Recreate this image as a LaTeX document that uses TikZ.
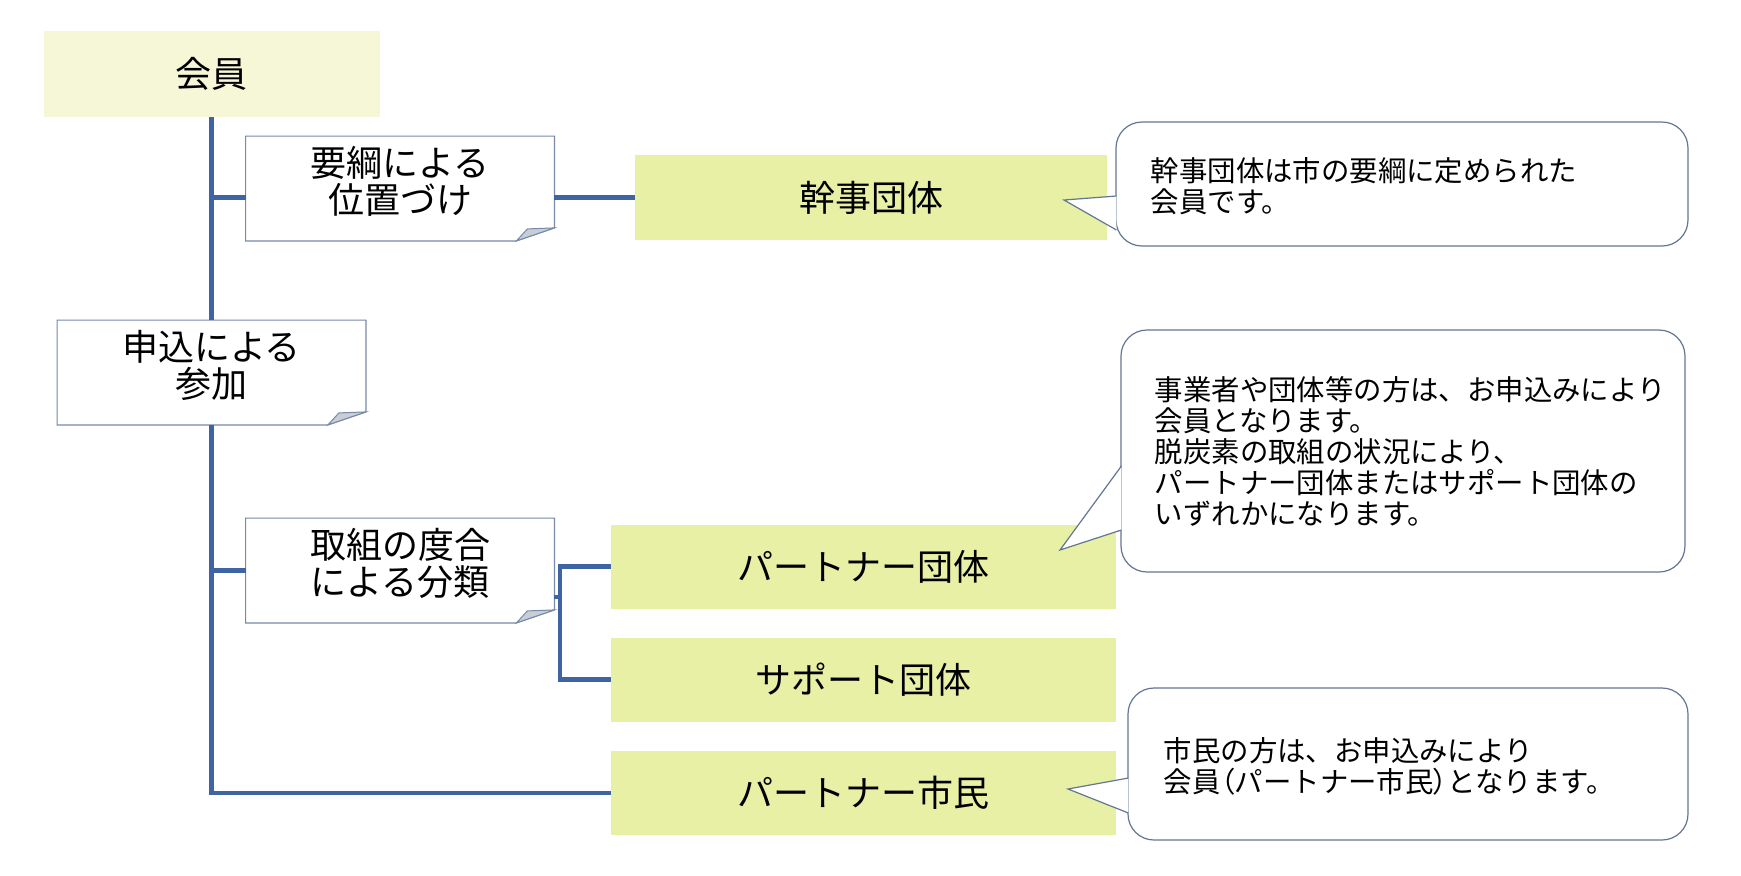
\documentclass[tikz,border=0pt]{standalone}
\usepackage{fontspec}
\setmainfont{Noto Sans CJK JP}
\usetikzlibrary{calc}

\definecolor{trunkblue}{RGB}{62,100,163}
\definecolor{headfill}{RGB}{245,247,214}
\definecolor{leaffill}{RGB}{231,240,164}
\definecolor{noteline}{RGB}{120,138,168}
\definecolor{foldgray}{RGB}{200,205,214}
\definecolor{callline}{RGB}{100,118,145}

\begin{document}
\begin{tikzpicture}[
    x=0.5pt, y=-0.5pt,
    font=\fontsize{18pt}{18.5pt}\selectfont,
    headbox/.style={rectangle, fill=headfill, minimum width=168pt,
                    minimum height=43pt, inner sep=0pt},
    notebox/.style={rectangle, fill=white, minimum width=154pt,
                    minimum height=52pt, inner sep=0pt, align=center,
                    text depth=9pt},
    leafbox/.style={rectangle, fill=leaffill, minimum width=252.5pt,
                    minimum height=42pt, inner sep=0pt},
    callbox/.style={rectangle, draw=callline, fill=white, line width=0.6pt,
                    rounded corners=13pt, inner sep=0pt},
    calltxt/.style={anchor=west, align=left, inner sep=0pt,
                    font=\fontsize{14.2pt}{15.5pt}\selectfont},
    trunk/.style={draw=trunkblue, line width=2.2pt},
    ptr/.style={draw=callline, fill=white, line width=0.6pt},
  ]

  \path[fill=white, use as bounding box] (0,0) rectangle (1741,875);

  %% ===== 左側の木 =====
  \node[headbox] (kaiin) at (211.5,74) {会員};
  \node[notebox] (yoko)  at (400,188.5) {要綱による\\位置づけ};
  \node[notebox] (moshi) at (211.5,372.5) {申込による\\参加};
  \node[notebox] (tori)  at (400,570.5) {取組の度合\\による分類};

  %% 折り返し付きの枠
  \foreach \n in {yoko,moshi,tori}{
    \draw[draw=noteline, line width=0.6pt]
      (\n.north west) -- (\n.north east) -- ($(\n.south east)+(0,-13)$)
      -- ($(\n.south east)+(-38,0)$) -- (\n.south west) -- cycle;
    \draw[draw=noteline, fill=foldgray, line width=0.5pt]
      ($(\n.south east)+(-38,0)$) -- ($(\n.south east)+(-27,-12)$)
      -- ($(\n.south east)+(0,-13)$) -- cycle;
  }

  %% ===== 会員の区分 =====
  \node[leafbox, minimum width=236pt, minimum height=42.5pt] (kanji)
    at (871,197.5) {幹事団体};
  \node[leafbox] (partner) at (863.5,566.5) {パートナー団体};
  \node[leafbox] (support) at (863.5,679.5) {サポート団体};
  \node[leafbox] (shimin)  at (863.5,793) {パートナー市民};

  %% 幹線と枝
  \draw[trunk] (kaiin.south) -- (moshi.north);
  \draw[trunk] (moshi.south) |- (shimin.west);
  \draw[trunk] (kaiin.south |- kanji.west) -- (yoko.west |- kanji.west);
  \draw[trunk] (yoko.east |- kanji.west) -- (kanji.west);
  \draw[trunk] (moshi.south |- tori.west) -- (tori.west);

  \coordinate (fork) at (560,597);
  \draw[trunk] ($(tori.east)+(0,26.5)$) -- (fork);
  \draw[trunk] (partner.west) -| (fork) |- (support.west);

  %% ===== 吹き出し =====
  \node[callbox, minimum width=286pt, minimum height=62pt] (call1)
    at (1402,184) {};
  \coordinate (tip1) at (1064,200);
  \filldraw[ptr] ($(call1.west)+(1,12)$) -- (tip1) -- ($(call1.west)+(1,46)$);
  \node[calltxt] (txt1) at ($(call1.west)+(35,2)$)
    {幹事団体は市の要綱に定められた\\会員です。};

  \node[callbox, minimum width=282pt, minimum height=121pt] (call2)
    at (1403,451) {};
  \coordinate (tip2) at (1060,550);
  \filldraw[ptr] ($(call2.west)+(1,15)$) -- (tip2) -- ($(call2.west)+(1,79)$);
  \node[calltxt] (txt2) at ($(call2.west)+(34,0)$)
    {事業者や団体等の方は、お申込みにより\\会員となります。\\
     脱炭素の取組の状況により、\\パートナー団体またはサポート団体の\\
     いずれかになります。};

  \node[callbox, minimum width=280pt, minimum height=76pt] (call3)
    at (1408,764) {};
  \coordinate (tip3) at (1068,789);
  \filldraw[ptr] ($(call3.west)+(1,14)$) -- (tip3) -- ($(call3.west)+(1,49)$);
  \node[calltxt] (txt3) at ($(call3.west)+(36,2)$)
    {市民の方は、お申込みにより\\会員{\addfontfeature{RawFeature=+palt}（}パートナー市民{\addfontfeature{RawFeature=+palt}）}となります。};

\end{tikzpicture}
\end{document}
